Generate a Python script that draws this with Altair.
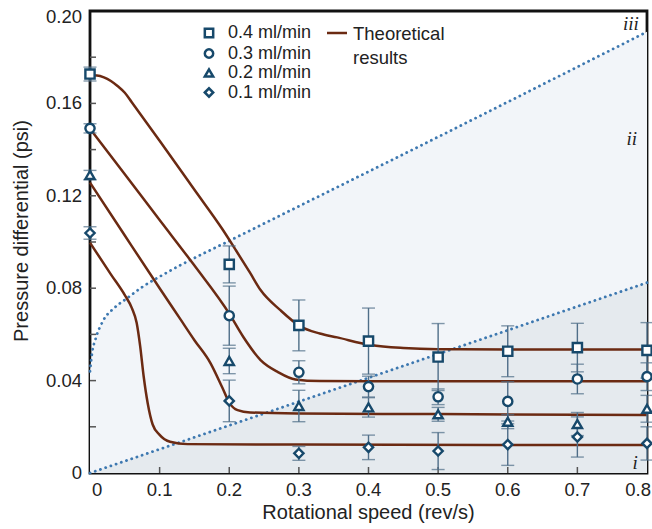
import altair as alt
import pandas as pd

# ---------------- data ----------------
speeds = [0.0, 0.2, 0.3, 0.4, 0.5, 0.6, 0.7, 0.8]
series_names = ["0.4 ml/min", "0.3 ml/min", "0.2 ml/min", "0.1 ml/min"]
series_shapes = ["square", "circle", "triangle-up", "diamond"]

p_04 = [0.1727, 0.0903, 0.0639, 0.0571, 0.0502, 0.0527, 0.0543, 0.0531]
e_04 = [0.0030, 0.0080, 0.0110, 0.0143, 0.0145, 0.0110, 0.0105, 0.0120]
p_03 = [0.1492, 0.0681, 0.0436, 0.0374, 0.0330, 0.0310, 0.0407, 0.0417]
e_03 = [0.0020, 0.0128, 0.0050, 0.0045, 0.0034, 0.0085, 0.0064, 0.0060]
p_02 = [0.1290, 0.0485, 0.0290, 0.0284, 0.0254, 0.0222, 0.0212, 0.0278]
e_02 = [0.0020, 0.0055, 0.0068, 0.0042, 0.0030, 0.0030, 0.0050, 0.0058]
p_01 = [0.1039, 0.0312, 0.0085, 0.0111, 0.0095, 0.0123, 0.0156, 0.0128]
e_01 = [0.0027, 0.0090, 0.0030, 0.0053, 0.0080, 0.0090, 0.0087, 0.0072]

# theoretical curves
th04_x = [0, 0.01, 0.02, 0.03, 0.04, 0.05, 0.06, 0.1, 0.15, 0.19, 0.21, 0.23, 0.245, 0.273, 0.302, 0.33, 0.355, 0.403, 0.45, 0.5, 0.6, 0.8]
th04_y = [0.1722, 0.1721, 0.1713, 0.1697, 0.1674, 0.1646, 0.1605, 0.1438, 0.1226, 0.1056, 0.0962, 0.0866, 0.0792, 0.0706, 0.0635, 0.0604, 0.0587, 0.0554, 0.0541, 0.0536, 0.0535, 0.0535]
th03_x = [0, 0.05, 0.1, 0.15, 0.2, 0.22, 0.245, 0.27, 0.295, 0.33, 0.4, 0.8]
th03_y = [0.1490, 0.1293, 0.1095, 0.0898, 0.0690, 0.0590, 0.0489, 0.0437, 0.0405, 0.0398, 0.0397, 0.0397]
th02_x = [0, 0.05, 0.1, 0.13, 0.15, 0.173, 0.19, 0.2, 0.212, 0.23, 0.3, 0.5, 0.8]
th02_y = [0.1257, 0.1028, 0.0800, 0.0665, 0.0575, 0.0476, 0.0370, 0.0305, 0.0272, 0.0262, 0.0258, 0.0255, 0.0251]
th01_x = [0, 0.03, 0.05, 0.06, 0.067, 0.072, 0.077, 0.083, 0.09, 0.1, 0.115, 0.14, 0.3, 0.8]
th01_y = [0.0997, 0.0860, 0.0770, 0.0715, 0.0650, 0.0550, 0.0420, 0.0300, 0.0210, 0.0165, 0.0135, 0.0125, 0.0123, 0.0121]

# regime boundaries (dotted)
b_low_x = [0.0, 0.8]
b_low_y = [0.0, 0.0824]
b_up_x = [0, 0.003, 0.008, 0.019, 0.035, 0.053, 0.075, 0.1, 0.13, 0.2, 0.26, 0.5, 0.8]
b_up_y = [0.044, 0.052, 0.058, 0.066, 0.0715, 0.0756, 0.0805, 0.085, 0.090, 0.1005, 0.1095, 0.1455, 0.191]

# regime labels
regime_text = ["iii", "ii", "i"]
regime_x = [0.777, 0.778, 0.783]
regime_y = [0.1944, 0.1446, 0.0045]

# axes
x_label_vals = [0, 0.1, 0.2, 0.3, 0.4, 0.5, 0.6, 0.7, 0.8]
y_label_vals = [0, 0.04, 0.08, 0.12, 0.16, 0.20]
x_tick_vals = [0.1, 0.2, 0.3, 0.4, 0.5, 0.6, 0.7]
y_tick_vals = [0.02, 0.04, 0.06, 0.08, 0.10, 0.12, 0.14, 0.16, 0.18]
x_title = "Rotational speed (rev/s)"
y_title = "Pressure differential (psi)"

theory_label_lines = ["Theoretical", "results"]

# ---------------- styling ----------------
FONT = "Liberation Sans"
TXT = "#222222"
MARK = "#17496b"
ERR = "#4f6e88"
LINE = "#6b2a12"
DOT = "#3d78b0"
AREA_II = "#f2f5f9"
AREA_I = "#e5eaee"
W, H = 557, 462
LFS = 18.5
TFS = 20

xs = alt.Scale(domain=[0, 0.8], nice=False, zero=False)
ys = alt.Scale(domain=[0, 0.2], nice=False, zero=False)

# ---------------- tables ----------------
rows = []
for name, vals, errs in zip(series_names, [p_04, p_03, p_02, p_01], [e_04, e_03, e_02, e_01]):
    for sx, v, e in zip(speeds, vals, errs):
        rows.append({"x": sx, "y": v, "err": e, "series": name})
pts = pd.DataFrame(rows)

trows = []
for cid, (cx, cy) in enumerate([(th04_x, th04_y), (th03_x, th03_y), (th02_x, th02_y), (th01_x, th01_y)]):
    for a, b in zip(cx, cy):
        trows.append({"x": a, "y": b, "curve": cid})
theory = pd.DataFrame(trows)

upper = pd.DataFrame({"x": b_up_x, "y": b_up_y})
lower = pd.DataFrame({"x": b_low_x, "y": b_low_y})
regimes = pd.DataFrame({"x": regime_x, "y": regime_y, "t": regime_text})
xt = pd.DataFrame({"v": x_tick_vals})
yt = pd.DataFrame({"v": y_tick_vals})
xl = pd.DataFrame({"v": x_label_vals})
yl = pd.DataFrame({"v": y_label_vals})

X = lambda f: alt.X(f, scale=xs, axis=None)
Y = lambda f: alt.Y(f, scale=ys, axis=None)

area_ii = alt.Chart(upper).mark_area(color=AREA_II, interpolate="monotone", opacity=1).encode(
    x=X("x:Q"), y=Y("y:Q"), y2=alt.datum(0)
)
area_i = alt.Chart(lower).mark_area(color=AREA_I, opacity=1).encode(
    x=X("x:Q"), y=Y("y:Q"), y2=alt.datum(0)
)
dot_up = alt.Chart(upper).mark_line(color=DOT, strokeWidth=2.8, strokeDash=[0.1, 5.4], strokeCap="round", interpolate="monotone").encode(
    x=X("x:Q"), y=Y("y:Q")
)
dot_low = alt.Chart(lower).mark_line(color=DOT, strokeWidth=2.8, strokeDash=[0.1, 5.4], strokeCap="round").encode(
    x=X("x:Q"), y=Y("y:Q")
)
xticks = alt.Chart(xt).mark_rule(color="#555555", strokeWidth=1.5).encode(
    x=X("v:Q"), y=alt.value(H), y2=alt.value(H - 6)
)
yticks = alt.Chart(yt).mark_rule(color="#555555", strokeWidth=1.5).encode(
    y=Y("v:Q"), x=alt.value(0), x2=alt.value(6)
)

# tick labels and axis titles as text
txt = dict(font=FONT, fontSize=LFS, color=TXT)
ylab = alt.Chart(yl).transform_calculate(lbl="datum.v == 0 ? '0' : format(datum.v, '.2f')")
ylab_main = ylab.transform_filter("datum.v < 0.199").mark_text(align="right", baseline="middle", **txt).encode(
    y=Y("v:Q"), x=alt.value(-8), text="lbl:N"
)
ylab_top = ylab.transform_filter("datum.v >= 0.199").mark_text(align="right", baseline="middle", dy=6, **txt).encode(
    y=Y("v:Q"), x=alt.value(-8), text="lbl:N"
)
xlab = alt.Chart(xl).transform_calculate(lbl="datum.v == 0 ? '0' : format(datum.v, '.1f')")
xlab_mid = xlab.transform_filter("datum.v > 0.01 && datum.v < 0.79").mark_text(align="center", baseline="middle", **txt).encode(
    x=X("v:Q"), y=alt.value(H + 17), text="lbl:N"
)
xlab_first = xlab.transform_filter("datum.v <= 0.01").mark_text(align="left", baseline="middle", dx=2, **txt).encode(
    x=X("v:Q"), y=alt.value(H + 17), text="lbl:N"
)
xlab_last = xlab.transform_filter("datum.v >= 0.79").mark_text(align="right", baseline="middle", dx=4, **txt).encode(
    x=X("v:Q"), y=alt.value(H + 17), text="lbl:N"
)
one = pd.DataFrame({"k": [0]})
xtitle = alt.Chart(one).mark_text(align="center", baseline="middle", font=FONT, fontSize=TFS, color=TXT).encode(
    x=alt.value(W / 2), y=alt.value(H + 40), text=alt.value(x_title)
)
ytitle = alt.Chart(one).mark_text(align="center", baseline="middle", angle=270, font=FONT, fontSize=TFS, color=TXT).encode(
    x=alt.value(-68), y=alt.value(220), text=alt.value(y_title)
)

lines = alt.Chart(theory).mark_line(color=LINE, strokeWidth=2.5, interpolate="monotone").encode(
    x=X("x:Q"), y=Y("y:Q"), detail="curve:N", order="x:Q"
)

base_err = alt.Chart(pts).transform_calculate(lo="datum.y - datum.err", hi="datum.y + datum.err")
err_rule = base_err.mark_rule(color=ERR, strokeWidth=1.4).encode(
    x=X("x:Q"), y=Y("lo:Q"), y2="hi:Q"
)
cap_lo = base_err.mark_tick(color=ERR, orient="horizontal", size=13, thickness=1.4).encode(
    x=X("x:Q"), y=Y("lo:Q")
)
cap_hi = base_err.mark_tick(color=ERR, orient="horizontal", size=13, thickness=1.4).encode(
    x=X("x:Q"), y=Y("hi:Q")
)

points = alt.Chart(pts).mark_point(filled=False, fill="white", fillOpacity=1, color=MARK, strokeWidth=2.4, size=85, opacity=1).encode(
    x=X("x:Q"),
    y=Y("y:Q"),
    shape=alt.Shape(
        "series:N",
        scale=alt.Scale(domain=series_names, range=series_shapes),
        sort=series_names,
        legend=alt.Legend(
            orient="none", legendX=110, legendY=13, title=None, padding=0,
            labelFont=FONT, labelFontSize=18, labelColor=TXT, labelOffset=10,
            symbolSize=70, symbolStrokeWidth=2.5, rowPadding=0.5,
        ),
    ),
)

regime_lbl = alt.Chart(regimes).mark_text(font="Liberation Serif", fontStyle="italic", fontSize=19, color=TXT).encode(
    x=X("x:Q"), y=Y("y:Q"), text="t:N"
)

leg_line = alt.Chart(one).mark_rule(color=LINE, strokeWidth=2.5).encode(
    x=alt.value(237), x2=alt.value(257), y=alt.value(22)
)
leg_text = alt.Chart(one).mark_text(
    align="left", baseline="top", font=FONT, fontSize=18.5, color=TXT, lineHeight=24, lineBreak="\n"
).encode(x=alt.value(263), y=alt.value(14), text=alt.value("\n".join(theory_label_lines)))

chart = alt.layer(
    area_ii, area_i, dot_up, dot_low, xticks, yticks, lines, err_rule, cap_lo, cap_hi,
    points, regime_lbl, leg_line, leg_text,
    ylab_main, ylab_top, xlab_mid, xlab_first, xlab_last, xtitle, ytitle,
).properties(
    width=W, height=H,
    autosize=alt.AutoSizeParams(type="none"),
    padding={"left": 90, "top": 11, "right": 5, "bottom": 56},
).configure(
    background="white",
    view=alt.ViewConfig(stroke="#111111", strokeWidth=2.8),
)

chart.save("out.html", embed_options={"renderer": "svg", "actions": False})
